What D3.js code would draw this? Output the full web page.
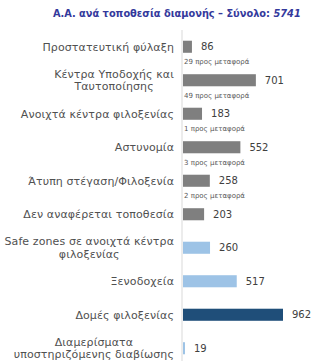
<!DOCTYPE html>
<html>
<head>
<meta charset="utf-8">
<script src="https://cdn.jsdelivr.net/npm/d3@7"></script>
<style>
  body { margin: 0; background: #fff; }
  svg { font-family: "DejaVu Sans", sans-serif; }
</style>
</head>
<body>
<div id="chart"></div>
<script>
// data
const categories = [
  ["Προστατευτική φύλαξη"],
  ["Κέντρα Υποδοχής και", "Ταυτοποίησης"],
  ["Ανοιχτά κέντρα φιλοξενίας"],
  ["Αστυνομία"],
  ["Άτυπη στέγαση/Φιλοξενία"],
  ["Δεν αναφέρεται τοποθεσία"],
  ["Safe zones σε ανοιχτά κέντρα", "φιλοξενίας"],
  ["Ξενοδοχεία"],
  ["Δομές φιλοξενίας"],
  ["Διαμερίσματα", "υποστηριζόμενης διαβίωσης"]
];
const values = [86, 701, 183, 552, 258, 203, 260, 517, 962, 19];
const notes = ["29 προς μεταφορά", "49 προς μεταφορά", "1 προς μεταφορά", "3 προς μεταφορά", "2 προς μεταφορά", "", "", "", "", ""];
const groups = ["grey", "grey", "grey", "grey", "grey", "grey", "light", "light", "dark", "light"];
const total = 5741;

const width = 313, height = 361;
const colors = { grey: "#7f7f7f", light: "#9dc3e6", dark: "#1f4e79" };

const svg = d3.select("#chart").append("svg")
  .attr("width", width)
  .attr("height", height);

const idx = d3.range(values.length);

const x = d3.scaleLinear().domain([0, 962]).range([183, 283]);
const y = d3.scaleBand().domain(idx).range([30, 365]).paddingInner(0.64).paddingOuter(0.32);

// title
const title = svg.append("text")
  .attr("x", 53).attr("y", 17)
  .attr("font-size", 10.5)
  .attr("font-weight", "bold")
  .attr("fill", "#34399c");
title.append("tspan").text("Α.Α. ανά τοποθεσία διαμονής – Σύνολο: ");
title.append("tspan").attr("font-style", "italic").text(total);
// squeeze/stretch to the width seen in the reference
const tw = title.node().getComputedTextLength();
title.attr("transform", `translate(53,0) scale(${248 / tw},1) translate(-53,0)`);

// axis line
svg.append("line")
  .attr("x1", x(0) - 1).attr("x2", x(0) - 1)
  .attr("y1", 30).attr("y2", height)
  .attr("stroke", "#d9d9d9")
  .attr("stroke-width", 1);

// bars
svg.selectAll("rect.bar")
  .data(idx)
  .join("rect")
  .attr("class", "bar")
  .attr("x", x(0))
  .attr("y", i => y(i))
  .attr("width", i => x(values[i]) - x(0))
  .attr("height", y.bandwidth())
  .attr("fill", i => colors[groups[i]]);

// value labels
svg.selectAll("text.val")
  .data(idx)
  .join("text")
  .attr("class", "val")
  .attr("x", i => x(values[i]) + 9)
  .attr("y", i => y(i) + y.bandwidth() / 2)
  .attr("dy", "0.35em")
  .attr("font-size", 10)
  .attr("fill", "#404040")
  .text(i => values[i]);

// notes under bars
svg.selectAll("text.note")
  .data(idx.filter(i => notes[i]))
  .join("text")
  .attr("class", "note")
  .attr("x", x(0) + 1)
  .attr("y", i => y(i) + y.bandwidth() / 2 + 15)
  .attr("dy", "0.35em")
  .attr("font-size", 7)
  .attr("fill", "#595959")
  .text(i => notes[i]);

// category labels
const labelRight = 174, lineH = 12.5;
idx.forEach(i => {
  const lines = categories[i];
  const g = svg.append("g");
  const cy = y(i) + y.bandwidth() / 2;
  const texts = lines.map((t, k) => g.append("text")
    .attr("y", cy + (k - (lines.length - 1) / 2) * lineH)
    .attr("dy", "0.35em")
    .attr("font-size", 11)
    .attr("letter-spacing", 0.1)
    .attr("fill", "#505050")
    .text(t));
  const maxW = d3.max(texts, t => t.node().getComputedTextLength());
  texts.forEach(t => t.attr("text-anchor", "middle").attr("x", labelRight - maxW / 2));
});
</script>
</body>
</html>
